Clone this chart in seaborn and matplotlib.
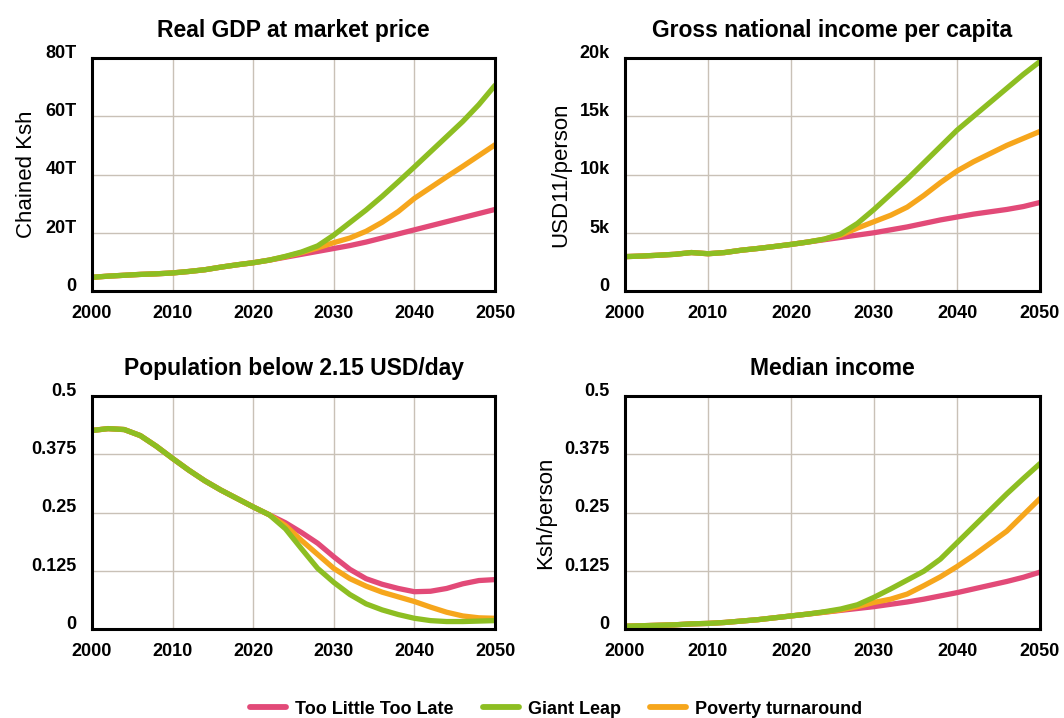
import pandas as pd
import seaborn as sns
import matplotlib.pyplot as plt
from matplotlib.lines import Line2D

# years: shared history, then scenario projections
hist_years = [2000, 2002, 2004, 2006, 2008, 2010, 2012, 2014, 2016, 2018, 2020]
proj_years = [2022, 2024, 2026, 2028, 2030, 2032, 2034, 2036, 2038, 2040, 2042, 2044, 2046, 2048, 2050]

scenarios = ['Too Little Too Late', 'Giant Leap', 'Poverty turnaround']
colors = {'Too Little Too Late': '#E24A78', 'Giant Leap': '#8DBE22', 'Poverty turnaround': '#F6A61C'}
draw_order = ['Too Little Too Late', 'Poverty turnaround', 'Giant Leap']

# Real GDP (trillion Ksh)
gdp_hist = [4.7, 5.1, 5.4, 5.7, 5.9, 6.2, 6.7, 7.3, 8.2, 9.0, 9.7]
gdp_tltl = [10.6, 11.6, 12.6, 13.6, 14.6, 15.6, 16.8, 18.2, 19.6, 21.0, 22.4, 23.8, 25.2, 26.6, 28.0]
gdp_gl = [10.6, 11.9, 13.4, 15.5, 19.2, 23.5, 27.8, 32.5, 37.5, 42.6, 47.8, 53.0, 58.2, 64.0, 70.6]
gdp_pt = [10.6, 11.8, 13.2, 14.8, 16.6, 18.2, 20.5, 23.6, 27.3, 31.8, 35.5, 39.2, 42.8, 46.5, 50.2]

# Gross national income per capita (thousand USD11)
gni_hist = [2.95, 3.0, 3.07, 3.15, 3.3, 3.2, 3.3, 3.5, 3.65, 3.82, 4.0]
gni_tltl = [4.2, 4.4, 4.6, 4.8, 5.0, 5.25, 5.5, 5.8, 6.1, 6.35, 6.6, 6.8, 7.0, 7.25, 7.6]
gni_gl = [4.2, 4.45, 4.9, 5.8, 7.0, 8.3, 9.6, 11.0, 12.4, 13.8, 15.0, 16.2, 17.4, 18.6, 19.7]
gni_pt = [4.2, 4.45, 4.8, 5.4, 5.95, 6.5, 7.2, 8.2, 9.3, 10.3, 11.1, 11.8, 12.5, 13.1, 13.7]

# Population share below 2.15 USD/day
pov_hist = [0.426, 0.430, 0.428, 0.415, 0.392, 0.366, 0.341, 0.318, 0.298, 0.280, 0.262]
pov_tltl = [0.245, 0.228, 0.207, 0.184, 0.155, 0.128, 0.108, 0.096, 0.087, 0.080, 0.081, 0.087, 0.097, 0.104, 0.106]
pov_gl = [0.245, 0.215, 0.172, 0.130, 0.100, 0.074, 0.054, 0.041, 0.031, 0.023, 0.018, 0.016, 0.016, 0.017, 0.018]
pov_pt = [0.245, 0.222, 0.190, 0.160, 0.130, 0.108, 0.092, 0.079, 0.069, 0.059, 0.047, 0.036, 0.028, 0.024, 0.023]

# Median income (Ksh/person)
med_hist = [0.006, 0.007, 0.008, 0.009, 0.011, 0.012, 0.014, 0.017, 0.020, 0.024, 0.028]
med_tltl = [0.032, 0.036, 0.040, 0.044, 0.048, 0.053, 0.058, 0.064, 0.071, 0.078, 0.086, 0.094, 0.102, 0.111, 0.122]
med_gl = [0.032, 0.037, 0.043, 0.052, 0.068, 0.086, 0.105, 0.124, 0.150, 0.185, 0.220, 0.255, 0.290, 0.323, 0.355]
med_pt = [0.032, 0.036, 0.041, 0.048, 0.057, 0.064, 0.075, 0.093, 0.112, 0.134, 0.158, 0.184, 0.210, 0.245, 0.280]

x_ticks = [2000, 2010, 2020, 2030, 2040, 2050]
gdp_ticks = [0, 20, 40, 60, 80]
gdp_labels = ['0', '20T', '40T', '60T', '80T']
gni_ticks = [0, 5, 10, 15, 20]
gni_labels = ['0', '5k', '10k', '15k', '20k']
share_ticks = [0, 0.125, 0.25, 0.375, 0.5]
share_labels = ['0', '0.125', '0.25', '0.375', '0.5']


def make_df(hist, tltl, gl, pt):
    rows = []
    for name, proj in zip(scenarios, [tltl, gl, pt]):
        for yr, v in zip(hist_years + proj_years, hist + proj):
            rows.append({'year': yr, 'value': v, 'scenario': name})
    return pd.DataFrame(rows)


panels = [
    ('Real GDP at market price', 'Chained Ksh', make_df(gdp_hist, gdp_tltl, gdp_gl, gdp_pt), gdp_ticks, gdp_labels),
    ('Gross national income per capita', 'USD11/person', make_df(gni_hist, gni_tltl, gni_gl, gni_pt), gni_ticks, gni_labels),
    ('Population below 2.15 USD/day', '', make_df(pov_hist, pov_tltl, pov_gl, pov_pt), share_ticks, share_labels),
    ('Median income', 'Ksh/person', make_df(med_hist, med_tltl, med_gl, med_pt), share_ticks, share_labels),
]

sns.set_theme(style='white')
plt.rcParams['font.family'] = ['Liberation Sans', 'DejaVu Sans']
plt.rcParams['text.color'] = 'black'
plt.rcParams['axes.labelcolor'] = 'black'
plt.rcParams['xtick.color'] = 'black'
plt.rcParams['ytick.color'] = 'black'

W, H = 1064, 718
fig = plt.figure(figsize=(W / 100, H / 100), dpi=100)

# axes boxes in pixels: left, top, right, bottom
boxes = [(92, 58, 495, 291), (625, 58, 1040, 291), (92, 396, 495, 629), (625, 396, 1040, 629)]

for (title, ylabel, df, yt, ytl), (l, t, r, b) in zip(panels, boxes):
    ax = fig.add_axes([l / W, 1 - b / H, (r - l) / W, (b - t) / H])
    sns.lineplot(data=df, x='year', y='value', hue='scenario', hue_order=draw_order,
                 palette=colors, linewidth=3.8, ax=ax, legend=False)
    ax.set_xlim(2000, 2050)
    ax.set_ylim(yt[0], yt[-1])
    ax.set_xticks(x_ticks)
    ax.set_xticklabels([str(x) for x in x_ticks], fontweight='bold', fontsize=13)
    ax.set_yticks(yt)
    ax.set_yticklabels(ytl, fontweight='bold', fontsize=13, va='baseline')
    ax.tick_params(axis='x', length=0, pad=10)
    ax.tick_params(axis='y', length=0, pad=11)
    ax.grid(True, color='#c9c1b7', linewidth=1.0)
    ax.set_axisbelow(True)
    for s in ax.spines.values():
        s.set_color('black')
        s.set_linewidth(2.2)
    ax.set_title(title, fontsize=16.5, fontweight='bold', pad=15)
    ax.set_xlabel('')
    ax.set_ylabel(ylabel, fontsize=16, labelpad=6)

handles = [Line2D([0], [0], color=colors[s], linewidth=4.2) for s in scenarios]
fig.legend(handles, scenarios, loc='center', bbox_to_anchor=(556 / W, 1 - 709 / H), ncol=3,
           frameon=False, prop={'weight': 'bold', 'size': 13}, handlelength=2.0,
           handletextpad=0.5, columnspacing=1.6)

fig.savefig('out.png', dpi=100)
